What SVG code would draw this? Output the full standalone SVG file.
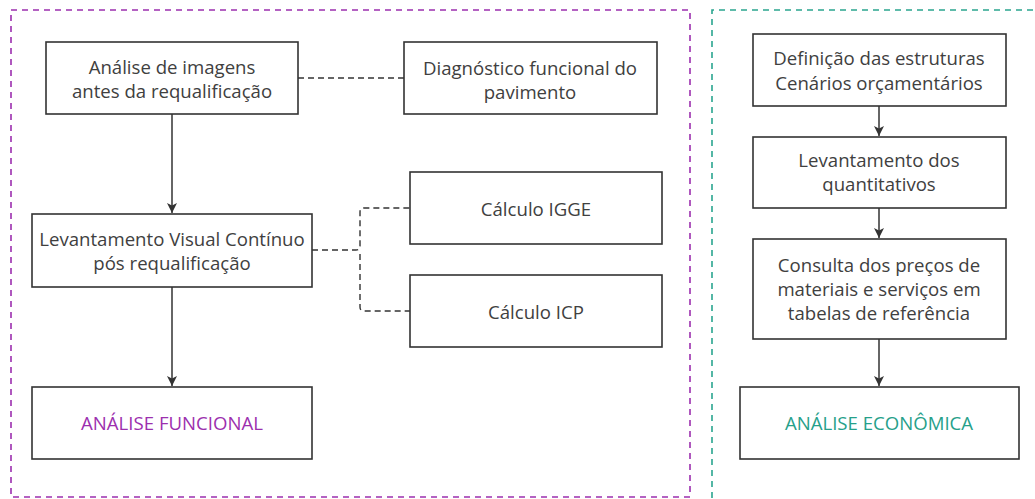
<svg xmlns="http://www.w3.org/2000/svg" width="1035" height="499" viewBox="0 0 1035 499">
  <style>
    .box { fill: #ffffff; stroke: #333333; stroke-width: 1.6; }
    .lbl { font-family: "Open Sans", "Noto Sans", "Liberation Sans", sans-serif; font-size: 18.6px; fill: #404040; text-anchor: middle; }
    .func { fill: #9c2fae; }
    .econ { fill: #26a08a; }
    .arrow { fill: none; stroke: #333333; stroke-width: 1.5; marker-end: url(#head); }
    .dash { fill: none; stroke: #333333; stroke-width: 1.4; stroke-dasharray: 6 4; }
    .frame-func { fill: none; stroke: #9c2fae; stroke-width: 1.6; stroke-dasharray: 6 5; }
    .frame-econ { fill: none; stroke: #2aa58f; stroke-width: 1.6; stroke-dasharray: 6 5; }
  </style>
  <defs>
    <marker id="head" viewBox="0 0 10 10" refX="10" refY="5" markerWidth="10" markerHeight="10" markerUnits="userSpaceOnUse" orient="auto">
      <path d="M0,0 L10,5 L0,10 L2.5,5 Z" fill="#333333"/>
    </marker>
  </defs>
  <rect width="1035" height="499" fill="#ffffff"/>

  <!-- section frames -->
  <g id="frames">
    <rect class="frame-func" x="11" y="10" width="679" height="487"/>
    <path class="frame-econ" d="M712,520 L712,10 L1040,10"/>
  </g>

  <!-- connectors -->
  <g id="connectors">
    <line class="dash" x1="298" y1="78" x2="404" y2="78"/>
    <line class="arrow" x1="172" y1="114" x2="172" y2="213"/>
    <line class="arrow" x1="172" y1="287" x2="172" y2="386"/>
    <path class="dash" d="M312,250 L356,250 Q360,250 360,246 L360,212 Q360,208 364,208 L410,208"/>
    <path class="dash" d="M360,254 L360,307 Q360,311 364,311 L410,311"/>
    <line class="arrow" x1="879" y1="106" x2="879" y2="136"/>
    <line class="arrow" x1="879" y1="208" x2="879" y2="238"/>
    <line class="arrow" x1="879" y1="339" x2="879" y2="386"/>
  </g>

  <!-- functional analysis nodes -->
  <g id="analise-imagens">
    <rect class="box" x="46" y="42" width="252" height="72"/>
    <text class="lbl" x="172" y="74">Análise de imagens</text>
    <text class="lbl" x="172" y="98">antes da requalificação</text>
  </g>
  <g id="diagnostico">
    <rect class="box" x="404" y="42" width="253" height="72"/>
    <text class="lbl" x="530" y="75">Diagnóstico funcional do</text>
    <text class="lbl" x="530" y="99">pavimento</text>
  </g>
  <g id="levantamento-visual">
    <rect class="box" x="32" y="214" width="280" height="73"/>
    <text class="lbl" x="172" y="246">Levantamento Visual Contínuo</text>
    <text class="lbl" x="172" y="270">pós requalificação</text>
  </g>
  <g id="calculo-igge">
    <rect class="box" x="410" y="172" width="252" height="72"/>
    <text class="lbl" x="536" y="216">Cálculo IGGE</text>
  </g>
  <g id="calculo-icp">
    <rect class="box" x="410" y="275" width="252" height="72"/>
    <text class="lbl" x="536" y="319">Cálculo ICP</text>
  </g>
  <g id="analise-funcional">
    <rect class="box" x="32" y="387" width="280" height="72"/>
    <text class="lbl func" x="172" y="430">ANÁLISE FUNCIONAL</text>
  </g>

  <!-- economic analysis nodes -->
  <g id="definicao-estruturas">
    <rect class="box" x="753" y="34" width="253" height="72"/>
    <text class="lbl" x="879" y="65">Definição das estruturas</text>
    <text class="lbl" x="879" y="90">Cenários orçamentários</text>
  </g>
  <g id="levantamento-quantitativos">
    <rect class="box" x="753" y="137" width="253" height="71"/>
    <text class="lbl" x="879" y="167">Levantamento dos</text>
    <text class="lbl" x="879" y="191">quantitativos</text>
  </g>
  <g id="consulta-precos">
    <rect class="box" x="753" y="239" width="253" height="100"/>
    <text class="lbl" x="879" y="272">Consulta dos preços de</text>
    <text class="lbl" x="879" y="296">materiais e serviços em</text>
    <text class="lbl" x="879" y="320">tabelas de referência</text>
  </g>
  <g id="analise-economica">
    <rect class="box" x="740" y="387" width="279" height="72"/>
    <text class="lbl econ" x="879" y="430">ANÁLISE ECONÔMICA</text>
  </g>
</svg>
